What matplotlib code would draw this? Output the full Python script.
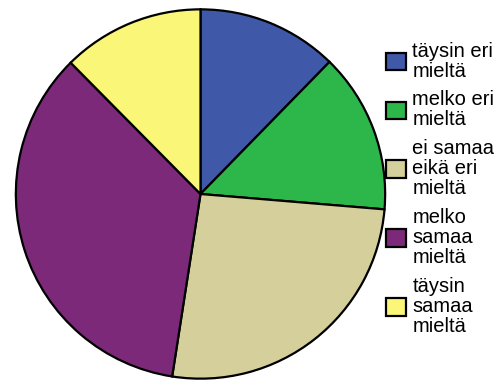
import matplotlib
matplotlib.use("Agg")
import matplotlib.pyplot as plt

# Response shares (percent) for each answer category
labels = ["täysin eri\nmieltä", "melko eri\nmieltä", "ei samaa\neikä eri\nmieltä",
          "melko\nsamaa\nmieltä", "täysin\nsamaa\nmieltä"]
shares = [12.3, 14.0, 26.1, 35.1, 12.4]
colors = ["#3f59a8", "#2db74b", "#d4cf9b", "#7d297a", "#faf678"]

plt.rcParams["font.family"] = ["Liberation Sans", "DejaVu Sans"]

W, H = 502, 381
fig = plt.figure(figsize=(W / 100, H / 100), dpi=100)

cx, cy, r = 200.5, 194.0, 186.5
ax = fig.add_axes([(cx - r) / W, (H - cy - r) / H, 2 * r / W, 2 * r / H])
wedges, _ = ax.pie(shares, colors=colors, startangle=90, counterclock=False,
                   radius=1.0,
                   wedgeprops=dict(edgecolor="black", linewidth=1.6))
ax.set_xlim(-1.01, 1.01)
ax.set_ylim(-1.01, 1.01)
ax.set_aspect("equal")
ax.axis("off")

leg = fig.legend(wedges, labels, loc="upper left",
                 bbox_to_anchor=(386.5 / W, 1 - 41.5 / H),
                 frameon=False, fontsize=14.5,
                 handlelength=0.95, handleheight=0.95, handletextpad=0.33,
                 labelspacing=0.47, borderpad=0.0, borderaxespad=0.0)
for t in leg.get_texts():
    t.set_linespacing(1.08)
for h in leg.legend_handles:
    h.set_linewidth(1.6)
    h.set_edgecolor("black")

fig.savefig("out.png", dpi=100)
